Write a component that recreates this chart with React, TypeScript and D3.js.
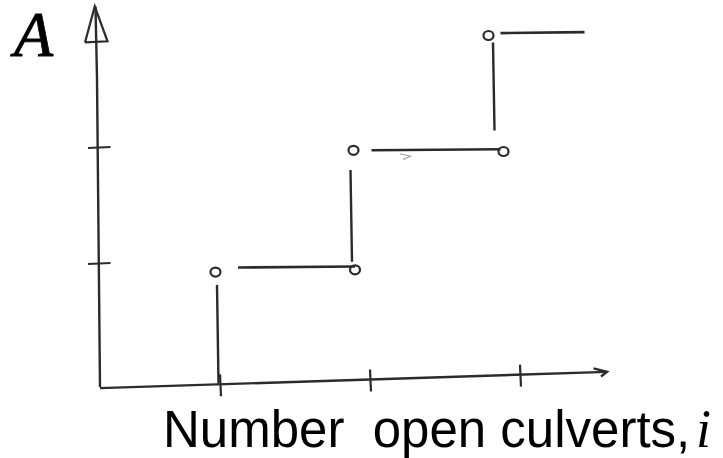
import React from 'react';
import * as d3 from 'd3';

// sketch (x = open culverts, y = A level)
const xTicks = [1, 2, 3];
const yTicks = [1, 2];
const risers = [
  { x: 0.99, y0: -0.03, y1: 0.82 },
  { x: 1.88, y0: 1.02, y1: 1.81 },
  { x: 2.83, y0: 2.15, y1: 2.91 },
];
const treads = [
  { y: 0.97, x0: 1.12, x1: 1.9 },
  { y: 1.98, x0: 2.01, x1: 2.87 },
  { y: 2.99, x0: 2.87, x1: 3.43 },
];
const circles = [
  { x: 0.97, y: 0.93 },
  { x: 1.9, y: 0.95 },
  { x: 1.89, y: 1.98 },
  { x: 2.89, y: 1.97 },
  { x: 2.79, y: 2.97 },
];

const W = 723;
const H = 458;
const ink = '#2b2b2b';

const App = () => {
  const x = d3.scaleLinear().domain([0, 3]).range([70, 520]);
  const y = d3.scaleLinear().domain([0, 3]).range([380, 32]);
  const line = d3.line<[number, number]>().x(d => d[0]).y(d => d[1]);

  // axis endpoints (slightly skewed like the pen drawing)
  const xAxisPts: [number, number][] = [[x(0.2), y(-0.07)], [x(3.58), y(0.07)]];
  const yAxisPts: [number, number][] = [[x(0.2), y(-0.06)], [x(0.18), y(2.6)], [x(0.17), y(3.22)]];
  const axisYAt = (v: number) => y(-0.07 + (0.14 * (v - 0.2)) / 3.38);

  return (
    <svg width={W} height={H} style={{ position: 'absolute', left: 0, top: 0, background: '#fff' }}>
      {/* y axis */}
      <path d={line(yAxisPts)!} fill="none" stroke={ink} strokeWidth={2.4} />
      <path d={`M${x(0.1)},${y(2.91)} L${x(0.165)},${y(3.22)} L${x(0.25)},${y(2.92)} L${x(0.1)},${y(2.91)}`} fill="none" stroke={ink} strokeWidth={2.2} />
      {/* x axis */}
      <path d={line(xAxisPts)!} fill="none" stroke={ink} strokeWidth={2.4} />
      <path d={`M${x(3.49)},${y(0.1)} L${x(3.58)},${y(0.07)} L${x(3.54)},${y(0.03)}`} fill="none" stroke={ink} strokeWidth={2.4} />

      {xTicks.map(t => (
        <line key={t} x1={x(t)} x2={x(t) + 1} y1={axisYAt(t) - 10} y2={axisYAt(t) + 12} stroke={ink} strokeWidth={2.2} />
      ))}
      {yTicks.map(t => (
        <line key={t} x1={x(0.12)} x2={x(0.27)} y1={y(t)} y2={y(t) - 1} stroke={ink} strokeWidth={2.2} />
      ))}

      {risers.map((r, i) => (
        <line key={i} x1={x(r.x)} x2={x(r.x) - 1.5} y1={y(r.y0)} y2={y(r.y1)} stroke={ink} strokeWidth={2.4} />
      ))}
      {treads.map((t, i) => (
        <line key={i} x1={x(t.x0)} x2={x(t.x1)} y1={y(t.y)} y2={y(t.y) - 1} stroke={ink} strokeWidth={2.6} />
      ))}
      {circles.map((c, i) => (
        <ellipse key={i} cx={x(c.x)} cy={y(c.y)} rx={5} ry={4.5} fill="none" stroke={ink} strokeWidth={2.2} />
      ))}
      {/* stray pen mark */}
      <path d={`M${x(2.2)},${y(1.95)} L${x(2.27)},${y(1.93)} L${x(2.22)},${y(1.9)}`} fill="none" stroke="#aaa" strokeWidth={1.2} />

      <text x={14} y={56} fontFamily="'Liberation Serif', serif" fontStyle="italic" fontSize={64} fill="#000" stroke="#000" strokeWidth={0.8}>A</text>
      <text x={163} y={447} fontFamily="'Liberation Sans', Arial, sans-serif" fontSize={51} fill="#000" xmlSpace="preserve">
        Number  open culverts,
      </text>
      <text x={696} y={447} fontFamily="'Liberation Serif', serif" fontStyle="italic" fontSize={54} fill="#000">i</text>
    </svg>
  );
};

export default App;
